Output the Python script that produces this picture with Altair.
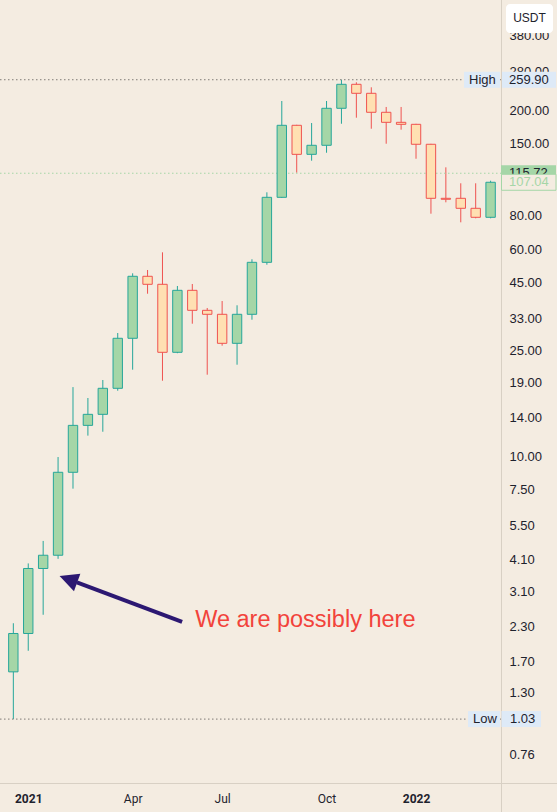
import altair as alt
import pandas as pd

# ---------------- data (bi-weekly candles, USDT) ----------------
dates = ["2020-12-21", "2021-01-04", "2021-01-18", "2021-02-01", "2021-02-15", "2021-03-01",
         "2021-03-15", "2021-03-29", "2021-04-12", "2021-04-26", "2021-05-10", "2021-05-24",
         "2021-06-07", "2021-06-21", "2021-07-05", "2021-07-19", "2021-08-02", "2021-08-16",
         "2021-08-30", "2021-09-13", "2021-09-27", "2021-10-11", "2021-10-25", "2021-11-08",
         "2021-11-22", "2021-12-06", "2021-12-20", "2022-01-03", "2022-01-17", "2022-01-31",
         "2022-02-14", "2022-02-28", "2022-03-14"]
opens = [1.55, 2.16, 3.79, 4.25, 8.71, 13.07, 14.38, 18.01, 27.76, 47.46, 44.28, 24.59,
         42.04, 35.36, 34.16, 26.58, 34.16, 53.56, 93.98, 175.2, 136.3, 147.4, 203.0, 249.8,
         231.1, 196.1, 179.8, 176.7, 148.7, 93.18, 93.18, 85.46, 79.06]
highs = [2.36, 3.96, 4.81, 9.94, 18.2, 16.56, 19.35, 29.06, 48.7, 50.12, 58.4, 43.64,
         44.4, 36.08, 38.32, 36.93, 54.98, 98.14, 216.2, 176.0, 178.7, 216.2, 259.9, 254.2,
         243.4, 205.3, 205.3, 177.5, 149.3, 121.8, 106.1, 106.1, 108.5]
lows = [1.03, 1.86, 2.54, 4.12, 7.56, 11.96, 12.37, 17.64, 21.16, 40.82, 19.23, 24.4,
        31.49, 20.26, 26.04, 22.09, 32.6, 52.46, 93.5, 116.3, 129.0, 138.2, 177.6, 187.1,
        170.1, 149.4, 168.7, 131.2, 81.56, 90.0, 75.7, 78.38, 78.38]
closes = [2.16, 3.79, 4.25, 8.71, 13.07, 14.38, 18.01, 27.76, 47.46, 44.28, 24.59, 42.04,
          35.36, 34.16, 26.58, 34.16, 53.56, 93.98, 175.2, 136.3, 147.4, 203.0, 249.8, 231.1,
          196.1, 179.8, 176.7, 148.7, 93.18, 92.4, 85.46, 79.06, 107.04]

price_ticks = [380, 280, 200, 150, 80, 60, 45, 33, 25, 19, 14, 10, 7.5, 5.5, 4.1, 3.1,
               2.3, 1.7, 1.3, 0.76]
high_value = [259.90]
low_value = [1.03]
last_price = [115.72]
close_price = [107.04]

arrow_tail = {"date": "2021-05-28T09:50:00Z", "price": 2.39}
arrow_base = {"date": "2021-02-18T15:50:00Z", "price": 3.36}
arrow_tip = {"date": "2021-02-02T10:05:00Z", "price": 3.55}
note_pos = {"date": "2021-06-09T15:40:00Z", "price": 2.28}
note_text = "We are possibly here"

# ---------------- styling ----------------
BG = "#F4ECE1"
TXT = "#1E222D"
UP_FILL, DOWN_FILL = "#A5D6A7", "#FFE0B2"
UP_LINE, DOWN_LINE = "#26A69A", "#EF5350"
BORDER = "#D8D0C4"
LABEL_BG = "#DEEAF7"
ARROW = "#2C1872"
W, H = 501, 783

df = pd.DataFrame({"date": dates, "open": opens, "high": highs, "low": lows, "close": closes})
df["dir"] = ["up" if c >= o else "down" for o, c in zip(opens, closes)]

xscale = alt.Scale(type="utc", domain=[
    alt.DateTime(year=2020, month=12, date=13, hours=4, minutes=20, utc=True),
    alt.DateTime(year=2022, month=3, date=19, hours=1, minutes=40, utc=True)])
yscale = alt.Scale(type="log", domain=[0.5926, 517.96], nice=False, zero=False)

x_axis = alt.Axis(
    values=[alt.DateTime(year=2021, month=1, date=4, utc=True),
            alt.DateTime(year=2021, month=4, date=12, utc=True),
            alt.DateTime(year=2021, month=7, date=5, utc=True),
            alt.DateTime(year=2021, month=10, date=11, utc=True),
            alt.DateTime(year=2022, month=1, date=3, utc=True)],
    labelExpr="utcmonth(datum.value) == 0 ? utcFormat(datum.value, '%Y') : utcFormat(datum.value, '%b')",
    labelFontWeight={"condition": {"test": "utcmonth(datum.value) == 0", "value": "bold"},
                     "value": "normal"},
    labelFont="Roboto", labelFontSize=12, labelColor=TXT, labelPadding=10,
    labelFlush=False, labelOverlap=False, domain=False, ticks=False, grid=False, title=None)
y_axis = alt.Axis(
    values=price_ticks, format=".2f", orient="right", labelFont="Liberation Sans",
    labelFontSize=13, labelColor=TXT, labelPadding=8, labelOverlap=False,
    domain=False, ticks=False, grid=False, title=None)


def X(field):
    return alt.X(field, scale=xscale, axis=x_axis, title=None)


def Y(field):
    return alt.Y(field, scale=yscale, axis=y_axis, title=None)


one = pd.DataFrame({"k": [0]})

# frame lines
vline = alt.Chart(one).mark_rule(color=BORDER, strokeWidth=1).encode(
    x=alt.value(W + 0.5), y=alt.value(0), y2=alt.value(H + 29))
hline = alt.Chart(one).mark_rule(color=BORDER, strokeWidth=1).encode(
    x=alt.value(0), x2=alt.value(W + 56), y=alt.value(H + 0.5))

# candles
stroke_enc = alt.Stroke("dir:N", scale=alt.Scale(domain=["up", "down"], range=[UP_LINE, DOWN_LINE]),
                        legend=None)
wicks = alt.Chart(df).mark_rule(strokeWidth=1).encode(
    x=X("date:T"), y=Y("low:Q"), y2="high:Q", stroke=stroke_enc)
bodies = alt.Chart(df).mark_bar(width=9.4, strokeWidth=1).encode(
    x=X("date:T"), y=Y("open:Q"), y2="close:Q",
    fill=alt.Fill("dir:N", scale=alt.Scale(domain=["up", "down"], range=[UP_FILL, DOWN_FILL]),
                  legend=None),
    stroke=stroke_enc)


# level lines
def level_rule(values, color):
    d = pd.DataFrame({"price": values})
    return alt.Chart(d).mark_rule(color=color, strokeDash=[1.5, 2.5], strokeWidth=1).encode(
        y=Y("price:Q"), x=alt.value(0), x2=alt.value(W))


hi_line = level_rule(high_value, "#7F7B76")
lo_line = level_rule(low_value, "#7F7B76")
cur_line = level_rule(last_price, "#A5D6A7")


def box(values, x1, x2, fill, stroke=None, top=-8, bottom=8):
    d = pd.DataFrame({"price": values})
    kw = dict(fill=fill, yOffset=top, y2Offset=bottom)
    if stroke:
        kw.update(stroke=stroke, strokeWidth=1)
    return alt.Chart(d).mark_rect(**kw).encode(
        y=Y("price:Q"), y2="price:Q", x=alt.value(x1), x2=alt.value(x2))


def label(values, x, text, color=TXT):
    d = pd.DataFrame({"price": values, "t": [text] * len(values)})
    return alt.Chart(d).mark_text(align="left", baseline="middle", font="Liberation Sans",
                                  fontSize=13, color=color).encode(
        y=Y("price:Q"), x=alt.value(x), text="t:N")


def value_label(values, x, color=TXT):
    d = pd.DataFrame({"price": values})
    return alt.Chart(d).mark_text(align="left", baseline="middle", font="Liberation Sans",
                                  fontSize=13, color=color).encode(
        y=Y("price:Q"), x=alt.value(x), text=alt.Text("price:Q", format=".2f"))


hi_boxes = [box(high_value, 464, 500, LABEL_BG), box(high_value, 502, 556, LABEL_BG),
            label(high_value, 469, "High"), value_label(high_value, 509)]
lo_boxes = [box(low_value, 468, 500, LABEL_BG), box(low_value, 501.5, 541, LABEL_BG),
            label(low_value, 473, "Low"), value_label(low_value, 510)]
cur_boxes = [box(last_price, 501, 556, "#A5D6A7"), value_label(last_price, 509),
             box(close_price, 501.5, 556, BG, stroke="#A5D6A7"),
             value_label(close_price, 509, color="#A5D6A7")]

# currency badge (covers the upper half of the top tick label, as in the source)
usdt_box = alt.Chart(one).mark_rect(fill="white", cornerRadius=4).encode(
    x=alt.value(506), x2=alt.value(553), y=alt.value(4), y2=alt.value(33))
usdt_txt = alt.Chart(pd.DataFrame({"t": ["USDT"]})).mark_text(
    align="center", baseline="middle", font="Liberation Sans", fontSize=12, color=TXT).encode(
    x=alt.value(529.5), y=alt.value(18), text="t:N")

# arrow + note
arrow_df = pd.DataFrame({"d1": [arrow_tail["date"]], "p1": [arrow_tail["price"]],
                         "d2": [arrow_base["date"]], "p2": [arrow_base["price"]]})
arrow_line = alt.Chart(arrow_df).mark_rule(color=ARROW, strokeWidth=4).encode(
    x=X("d1:T"), x2="d2:T", y=Y("p1:Q"), y2="p2:Q")
head_df = pd.DataFrame({"date": [arrow_tip["date"]], "price": [arrow_tip["price"]]})
arrow_head = alt.Chart(head_df).mark_point(
    shape="M0,0L0.5,1L-0.5,1Z", size=1400, angle=290, filled=True, fill=ARROW,
    strokeWidth=0, opacity=1).encode(x=X("date:T"), y=Y("price:Q"))
note_df = pd.DataFrame({"date": [note_pos["date"]], "price": [note_pos["price"]],
                        "t": [note_text]})
note = alt.Chart(note_df).mark_text(
    align="left", baseline="alphabetic", font="Liberation Sans", fontSize=23.5,
    color="#F2433B").encode(x=X("date:T"), y=Y("price:Q"), text="t:N")

chart = alt.layer(
    wicks, vline, hline, cur_line, hi_line, lo_line, bodies,
    arrow_line, arrow_head, note,
    *hi_boxes, *lo_boxes, *cur_boxes, usdt_box, usdt_txt
).properties(
    width=W, height=H, background=BG,
    padding={"left": 0, "top": 0, "right": 56, "bottom": 29},
    autosize=alt.AutoSizeParams(type="none")
).configure_view(stroke=None)

chart.save("out.html", embed_options={"renderer": "svg", "actions": False})
